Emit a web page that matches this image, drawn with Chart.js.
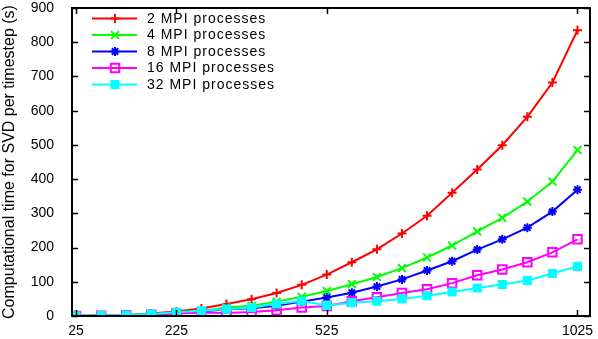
<!DOCTYPE html>
<html>
<head>
<meta charset="utf-8">
<script src="https://cdn.jsdelivr.net/npm/chart.js@4.4.1/dist/chart.umd.min.js"></script>
<style>
  html, body { margin: 0; padding: 0; background: #fff; }
</style>
</head>
<body>
<canvas id="chart" width="598" height="339"></canvas>
<script>
// problem size (x) and SVD time per timestep (s) for each MPI process count
const gridSizes = [25, 75, 125, 175, 225, 275, 325, 375, 425, 475, 525, 575, 625, 675, 725, 775, 825, 875, 925, 975, 1025];
const mpi2  = [0.5, 1.5, 3, 7, 13, 22, 35, 49, 67, 91, 121, 157, 195, 241, 293, 360, 428, 499, 582, 682, 835];
const mpi4  = [0.4, 1, 2.5, 5, 9, 15, 25, 30, 42, 56, 73, 93, 114, 140, 171, 206, 247, 287, 334, 393, 485];
const mpi8  = [0.3, 1, 2, 4.5, 8, 13, 20, 23, 30, 42, 54, 68, 86, 107, 133, 160, 194, 224, 258, 305, 369];
const mpi16 = [0.3, 1, 2, 4, 7, 10, 9, 12, 17, 25, 29, 43, 55, 67, 78, 96, 119, 136, 157, 186, 224];
const mpi32 = [0.5, 1.5, 3, 6, 11, 15, 20, 25, 35, 44, 31, 39, 43, 50, 59, 70, 82, 92, 104, 124, 145];

const seriesLabels = ['2 MPI processes', '4 MPI processes', '8 MPI processes', '16 MPI processes', '32 MPI processes'];
const xTickValues = [25, 225, 525, 1025];

const FONT = 'Liberation Sans, Arial, Helvetica, sans-serif';
Chart.defaults.font.family = FONT;
Chart.defaults.color = '#000';

const styles = [
    { color: '#ff0000', pointStyle: 'cross',    radius: 4.5, bg: '#ff0000' },
    { color: '#00ff00', pointStyle: 'crossRot', radius: 5.5, bg: '#00ff00' },
    { color: '#0000ff', pointStyle: 'star',     radius: 4.5, bg: '#0000ff' },
    { color: '#ff00ff', pointStyle: 'rect',     radius: 6,   bg: 'rgba(0,0,0,0)' },
    { color: '#00ffff', pointStyle: 'rect',     radius: 5,   bg: '#00ffff' }
];
const allSeries = [mpi2, mpi4, mpi8, mpi16, mpi32];

const datasets = allSeries.map((vals, i) => ({
    label: seriesLabels[i],
    data: gridSizes.map((x, j) => ({ x, y: vals[j] })),
    borderColor: styles[i].color,
    backgroundColor: styles[i].bg,
    borderWidth: 2,
    pointStyle: styles[i].pointStyle,
    pointRadius: styles[i].radius,
    pointBorderWidth: 2,
    pointBorderColor: styles[i].color,
    pointBackgroundColor: styles[i].bg,
    tension: 0,
    order: allSeries.length - i   // later series drawn on top
}));

const FRAME = { display: true, color: '#000', width: 2 };
const noGrid = { display: false, drawTicks: false };

// key (line sample + marker + label), then frame and inward tick marks
const keyPlugin = {
    id: 'plotKey',
    afterDraw(chart) {
        const ctx = chart.ctx;
        const a = chart.chartArea;
        const xs = chart.scales.x, ys = chart.scales.y;
        ctx.save();
        chart.data.datasets.forEach((ds, i) => {
            const yy = 18.5 + i * 16.5;
            ctx.strokeStyle = ds.borderColor;
            ctx.lineWidth = 2;
            ctx.beginPath(); ctx.moveTo(92, yy); ctx.lineTo(137, yy); ctx.stroke();
            ctx.fillStyle = ds.pointBackgroundColor;
            Chart.helpers.drawPoint(ctx, {
                pointStyle: ds.pointStyle, radius: ds.pointRadius, rotation: 0, borderWidth: 2
            }, 115, yy);
            ctx.fillStyle = '#000';
            ctx.font = '14px ' + FONT;
            ctx.textBaseline = 'middle';
            ctx.textAlign = 'left';
            let tx = 147;
            for (const ch of ds.label) {
                ctx.fillText(ch, tx, yy + 0.5);
                tx += ctx.measureText(ch).width + 1;
            }
        });

        ctx.strokeStyle = '#000';
        ctx.lineWidth = 1.5;
        const seg = (x1, y1, x2, y2) => { ctx.beginPath(); ctx.moveTo(x1, y1); ctx.lineTo(x2, y2); ctx.stroke(); };
        ys.ticks.forEach(t => {
            const py = Math.round(ys.getPixelForValue(t.value)) + 0.5;
            seg(a.left, py, a.left + 6, py);
            seg(a.right, py, a.right - 6, py);
        });
        xs.ticks.forEach(t => {
            const px = Math.round(xs.getPixelForValue(t.value)) + 0.5;
            seg(px, a.bottom, px, a.bottom - 6);
            seg(px, a.top, px, a.top + 6);
        });
        ctx.lineWidth = 2;
        ctx.strokeRect(Math.round(a.left), Math.round(a.top), Math.round(a.right - a.left), Math.round(a.bottom - a.top));
        ctx.restore();
    }
};

new Chart(document.getElementById('chart'), {
    type: 'line',
    data: { datasets },
    options: {
        responsive: false,
        animation: false,
        layout: { padding: { left: 0, right: 7, top: 5, bottom: 1 } },
        plugins: { legend: { display: false }, tooltip: { enabled: false } },
        scales: {
            x: {
                type: 'linear', min: 17, max: 1050,
                afterBuildTicks: s => { s.ticks = xTickValues.map(v => ({ value: v })); },
                ticks: { autoSkip: false, maxRotation: 0, padding: 0, font: { size: 14, lineHeight: 1 }, callback: v => String(v) },
                grid: { display: true, drawOnChartArea: false, drawTicks: true, tickLength: 8, tickColor: 'rgba(0,0,0,0)' },
                border: FRAME
            },
            xTop: {
                type: 'linear', position: 'top', min: 17, max: 1050,
                ticks: { display: false },
                grid: noGrid,
                border: FRAME
            },
            y: {
                min: 0, max: 900,
                ticks: { stepSize: 100, padding: 0, font: { size: 14, lineHeight: 0.7 } },
                grid: { display: true, drawOnChartArea: false, drawTicks: true, tickLength: 18, tickColor: 'rgba(0,0,0,0)' },
                border: FRAME,
                title: {
                    display: true,
                    text: 'Computational time for SVD per timestep (s)',
                    font: { size: 16 },
                    padding: { top: 0, bottom: 11.5 }
                }
            },
            yRight: {
                position: 'right', min: 0, max: 900,
                ticks: { display: false },
                grid: noGrid,
                border: FRAME
            }
        }
    },
    plugins: [keyPlugin]
});
</script>
</body>
</html>
